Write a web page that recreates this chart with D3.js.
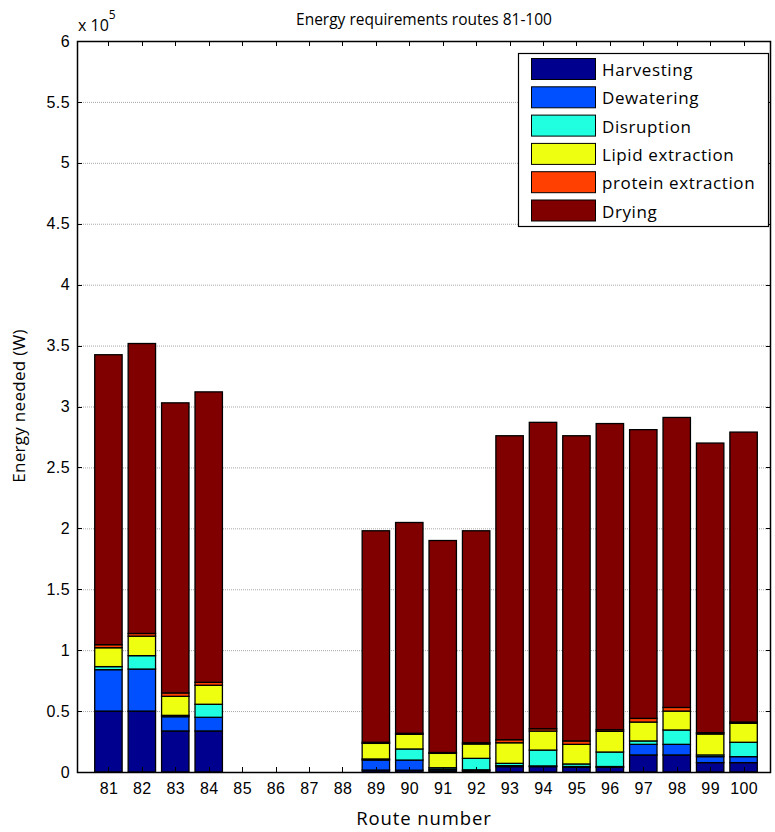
<!DOCTYPE html>
<html>
<head>
<meta charset="utf-8">
<script src="https://cdn.jsdelivr.net/npm/d3@7"></script>
<style>
  html, body { margin: 0; padding: 0; background: #fff; }
  svg { display: block; font-family: "Open Sans", "Noto Sans", sans-serif; }
</style>
</head>
<body>
<svg id="chart" width="775" height="832"></svg>
<script>
// Route numbers along the x axis
const routes = [81, 82, 83, 84, 85, 86, 87, 88, 89, 90, 91, 92, 93, 94, 95, 96, 97, 98, 99, 100];

// Energy per process step (W), one value per route
const harvesting = [50000, 50000, 33700, 33700, 0, 0, 0, 0, 1600, 1500, 1000, 1000, 4400, 4400, 3800, 3800, 14000, 14000, 7700, 7700];
const dewatering = [34000, 34500, 11700, 11200, 0, 0, 0, 0, 8200, 8300, 1200, 800, 800, 600, 700, 700, 8700, 8700, 4900, 4900];
const disruption = [2500, 11000, 1100, 10700, 0, 0, 0, 0, 900, 9100, 1300, 9400, 1900, 13000, 2100, 11900, 2800, 11800, 1400, 11800];
const lipidExtraction = [15500, 16000, 15600, 15600, 0, 0, 0, 0, 12800, 12000, 11800, 11800, 16900, 15600, 16100, 17000, 15500, 15500, 17200, 15600];
const proteinExtraction = [2500, 2200, 2800, 2400, 0, 0, 0, 0, 900, 900, 700, 1000, 2500, 1900, 2800, 1300, 3000, 3000, 1100, 1000];
const drying = [238000, 238000, 238100, 238400, 0, 0, 0, 0, 173600, 173000, 174000, 174000, 249500, 251500, 250500, 251300, 237000, 238000, 237700, 238000];

const seriesNames = ["Harvesting", "Dewatering", "Disruption", "Lipid extraction", "protein extraction", "Drying"];
const seriesColors = ["#00008f", "#0050ff", "#20ffdf", "#efff10", "#ff4000", "#800000"];
const yTicks = [0, 50000, 100000, 150000, 200000, 250000, 300000, 350000, 400000, 450000, 500000, 550000, 600000];

const titleText = "Energy requirements routes 81-100";
const xLabel = "Route number";
const yLabel = "Energy needed (W)";

// Table the stack layout works from
const seriesData = [harvesting, dewatering, disruption, lipidExtraction, proteinExtraction, drying];
const rows = routes.map((r, i) => {
  const row = { route: r };
  seriesNames.forEach((name, k) => { row[name] = seriesData[k][i]; });
  return row;
});

const svg = d3.select("#chart");
const plot = { left: 77, right: 771, top: 41, bottom: 772 };

const x = d3.scaleLinear().domain([80.06, 100.82]).range([plot.left, plot.right]);
const y = d3.scaleLinear().domain([0, 600000]).range([plot.bottom, plot.top]);
const barWidth = x(81.82) - x(81);
const color = d3.scaleOrdinal().domain(seriesNames).range(seriesColors);

// Dotted horizontal grid
svg.append("g")
  .selectAll("line")
  .data(yTicks.slice(1, -1))
  .join("line")
  .attr("x1", plot.left).attr("x2", plot.right)
  .attr("y1", d => y(d) + 0.5).attr("y2", d => y(d) + 0.5)
  .attr("stroke", "#a8a8a8")
  .attr("stroke-width", 1)
  .attr("stroke-dasharray", "1,1");

// Stacked bars
const stacked = d3.stack().keys(seriesNames)(rows);
svg.append("g")
  .selectAll("g")
  .data(stacked)
  .join("g")
  .attr("fill", d => color(d.key))
  .selectAll("rect")
  .data(d => d)
  .join("rect")
  .attr("x", d => x(d.data.route) - barWidth / 2)
  .attr("width", barWidth)
  .attr("y", d => y(d[1]))
  .attr("height", d => y(d[0]) - y(d[1]))
  .attr("stroke", "#000")
  .attr("stroke-width", 1.3);

// Axes box
svg.append("rect")
  .attr("x", plot.left + 0.5).attr("y", plot.top + 0.5)
  .attr("width", plot.right - plot.left - 1).attr("height", plot.bottom - plot.top)
  .attr("fill", "none").attr("stroke", "#000").attr("stroke-width", 1.5);

// Bottom axis
const xAxis = d3.axisBottom(x).tickValues(routes).tickSize(0).tickPadding(11).tickFormat(d3.format("d"));
const gx = svg.append("g").attr("transform", `translate(0,${plot.bottom})`).call(xAxis);
gx.select(".domain").remove();
gx.selectAll("text").attr("font-size", 16).attr("letter-spacing", 0.4).attr("fill", "#000");

// Left axis, labels in units of 10^5
const yAxis = d3.axisLeft(y).tickValues(yTicks).tickSize(0).tickPadding(7).tickFormat(d => d3.format("~g")(d / 100000));
const gy = svg.append("g").attr("transform", `translate(${plot.left},0)`).call(yAxis);
gy.select(".domain").remove();
gy.selectAll("text").attr("font-size", 16).attr("letter-spacing", 0.4).attr("fill", "#000");

// Inward tick marks on all four sides
const tickLen = 5;
const ticks = svg.append("g").attr("stroke", "#000").attr("stroke-width", 1);
routes.forEach(r => {
  const px = Math.round(x(r)) + 0.5;
  ticks.append("line").attr("x1", px).attr("x2", px).attr("y1", plot.bottom).attr("y2", plot.bottom - tickLen);
  ticks.append("line").attr("x1", px).attr("x2", px).attr("y1", plot.top).attr("y2", plot.top + tickLen);
});
yTicks.forEach(v => {
  const py = Math.round(y(v)) + 0.5;
  ticks.append("line").attr("x1", plot.left).attr("x2", plot.left + tickLen).attr("y1", py).attr("y2", py);
  ticks.append("line").attr("x1", plot.right).attr("x2", plot.right - tickLen).attr("y1", py).attr("y2", py);
});

// Exponent label
const expo = svg.append("text").attr("x", 78).attr("y", 31).attr("font-size", 16).attr("fill", "#000");
expo.append("tspan").text("x 10");
expo.append("tspan").attr("dy", -12).attr("font-size", 12).text("5");

// Title and axis labels
svg.append("text").attr("x", 424).attr("y", 25).attr("text-anchor", "middle")
  .attr("font-size", 15.5).attr("fill", "#000").text(titleText);
svg.append("text").attr("x", 424).attr("y", 825).attr("text-anchor", "middle")
  .attr("font-size", 18.5).attr("letter-spacing", 0.9).attr("fill", "#000").text(xLabel);
svg.append("text").attr("transform", "translate(25,406) rotate(-90)").attr("text-anchor", "middle")
  .attr("font-size", 17).attr("letter-spacing", 0.3).attr("fill", "#000").text(yLabel);

// Legend
const legend = svg.append("g");
legend.append("rect")
  .attr("x", 518.5).attr("y", 53.5).attr("width", 250).attr("height", 173)
  .attr("fill", "#fff").attr("stroke", "#000").attr("stroke-width", 1.2);
const items = legend.selectAll("g.item").data(seriesNames).join("g")
  .attr("class", "item")
  .attr("transform", (d, i) => `translate(0,${58 + i * 28.3})`);
items.append("rect")
  .attr("x", 531.5).attr("y", 0.5).attr("width", 64).attr("height", 21)
  .attr("fill", d => color(d)).attr("stroke", "#000").attr("stroke-width", 1);
items.append("text")
  .attr("x", 602).attr("y", 18)
  .attr("font-size", 17).attr("letter-spacing", 0.6).attr("fill", "#000").text(d => d);
</script>
</body>
</html>
